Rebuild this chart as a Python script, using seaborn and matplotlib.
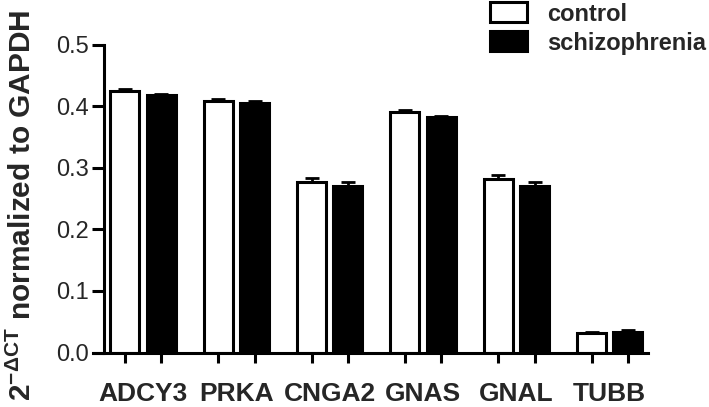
import numpy as np
import pandas as pd
import matplotlib
matplotlib.use("Agg")
import matplotlib.pyplot as plt
from matplotlib.patches import Patch
import seaborn as sns

# qPCR expression, 2^-dCT normalized to GAPDH
genes = ["ADCY3", "PRKA", "CNGA2", "GNAS", "GNAL", "TUBB"]
groups = ["control", "schizophrenia"]
control_mean = [0.424, 0.409, 0.277, 0.391, 0.282, 0.032]
control_sem = [0.003, 0.003, 0.006, 0.003, 0.006, 0.002]
schizo_mean = [0.418, 0.405, 0.270, 0.382, 0.270, 0.033]
schizo_sem = [0.002, 0.003, 0.007, 0.002, 0.006, 0.003]
y_ticks = [0.0, 0.1, 0.2, 0.3, 0.4, 0.5]

df = pd.DataFrame({
    "gene": genes * 2,
    "group": ["control"] * len(genes) + ["schizophrenia"] * len(genes),
    "value": control_mean + schizo_mean,
    "sem": control_sem + schizo_sem,
})

sns.set_style("ticks")
plt.rcParams["font.family"] = ["Liberation Sans", "DejaVu Sans"]
plt.rcParams["mathtext.fontset"] = "custom"
plt.rcParams["mathtext.rm"] = "Liberation Sans"
plt.rcParams["mathtext.bf"] = "Liberation Sans:bold"

fig = plt.figure(figsize=(7.09, 4.07), dpi=100)
ax = fig.add_axes([104 / 709, 1 - 352.5 / 407, (648 - 104) / 709, (352.5 - 44.5) / 407])

sns.barplot(data=df, x="gene", y="value", hue="group", order=genes, hue_order=groups,
            palette={"control": "white", "schizophrenia": "black"},
            edgecolor="black", linewidth=2.2, width=0.78, gap=0.2,
            errorbar=None, legend=False, ax=ax)

# one-sided SEM bars on top of each bar
centers = []
for cont, sem in zip(ax.containers, [control_sem, schizo_sem]):
    xs = np.array([b.get_x() + b.get_width() / 2 for b in cont])
    hs = np.array([b.get_height() for b in cont])
    centers.extend(xs)
    ax.errorbar(xs, hs, yerr=[np.zeros(len(sem)), sem], fmt="none",
                ecolor="black", elinewidth=2, capsize=5, capthick=2, zorder=3)

ax.set_xlim(-0.418, 5.41)
ax.set_ylim(0, 0.5)
ax.set_yticks(y_ticks)
ax.set_yticklabels([f"{t:.1f}" for t in y_ticks], fontsize=17)
ax.set_xticks(range(len(genes)))
ax.set_xticklabels(genes, fontsize=19, fontweight="bold")
ax.set_xticks(sorted(centers), minor=True)
ax.tick_params(axis="x", which="major", length=0, pad=21)
ax.tick_params(axis="x", which="minor", length=7, width=2.2, color="black")
ax.tick_params(axis="y", length=8.6, width=2.2, color="black", pad=2)
ax.set_xlabel("")
ax.set_ylabel(r"$\mathbf{2^{-\Delta CT}}$ normalized to GAPDH", fontsize=21.5,
              fontweight="bold")
ax.yaxis.set_label_coords(-0.124, 0.478)

for side in ["top", "right"]:
    ax.spines[side].set_visible(False)
for side in ["left", "bottom"]:
    ax.spines[side].set_linewidth(2.2)
    ax.spines[side].set_color("black")
ax.spines["bottom"].set_bounds(-0.535, 5.41)

handles = [Patch(facecolor="white", edgecolor="black", linewidth=2.2),
           Patch(facecolor="black", edgecolor="black", linewidth=2.2)]
fig.legend(handles, groups, loc="upper left", bbox_to_anchor=(488 / 709, 1.0),
           frameon=False, prop={"size": 17, "weight": "bold"},
           handlelength=1.57, handleheight=0.93, handletextpad=0.85,
           labelspacing=0.25, borderpad=0.1, borderaxespad=0)

fig.savefig("out.png", dpi=100)
